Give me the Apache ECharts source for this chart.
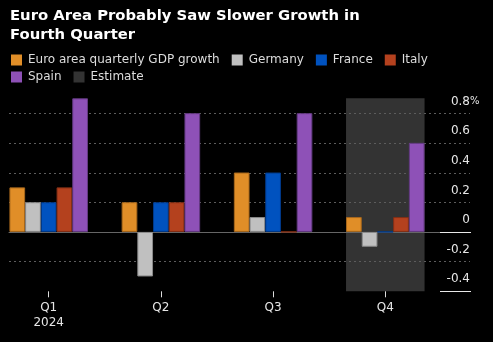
<!DOCTYPE html>
<html><head><meta charset="utf-8">
<script src="https://cdn.jsdelivr.net/npm/echarts@6/dist/echarts.min.js"></script>
<style>html,body{margin:0;padding:0;background:#000}#c{width:493px;height:342px}</style>
</head><body><div id="c"></div>
<script>
const categories = ['Q1\n2024', 'Q2', 'Q3', 'Q4'];
const euroArea = [0.3, 0.2, 0.4, 0.1];
const germany = [0.2, -0.3, 0.1, -0.1];
const france = [0.2, 0.2, 0.4, 0.0];
const italy = [0.3, 0.2, 0.0, 0.1];
const spain = [0.9, 0.8, 0.8, 0.6];
const estimateTop = [null, null, null, 0.9];
const estimateBottom = [null, null, null, -0.4];

const FONT = 'DejaVu Sans';
const chart = echarts.init(document.getElementById('c'), null, {renderer: 'canvas'});

function barSeries(name, data, color, border) {
  return {
    name, type: 'bar', data, xAxisIndex: 1, yAxisIndex: 1,
    barGap: '0%', barCategoryGap: '30%',
    itemStyle: {color, borderColor: border, borderWidth: 1},
    emphasis: {disabled: true}
  };
}
const fmtTick = v => Math.round(v * 10) / 10;

chart.setOption({
  backgroundColor: '#000',
  animation: false,
  title: {
    text: 'Euro Area Probably Saw Slower Growth in\nFourth Quarter',
    left: 10, top: 7, padding: 0,
    textStyle: {color: '#fff', fontFamily: FONT, fontWeight: 'bold', fontSize: 14.8, lineHeight: 19}
  },
  legend: [
    {
      data: ['Euro area quarterly GDP growth', 'Germany', 'France', 'Italy'],
      left: 11, top: 54, padding: 0, icon: 'rect', itemWidth: 11, itemHeight: 11, itemGap: 12,
      itemStyle: {borderWidth: 0},
      textStyle: {color: '#ddd', fontFamily: FONT, fontSize: 12, padding: [0, 0, 0, 1]}
    },
    {
      data: ['Spain', 'Estimate'],
      left: 11, top: 71, padding: 0, icon: 'rect', itemWidth: 11, itemHeight: 11, itemGap: 12,
      itemStyle: {borderWidth: 0},
      textStyle: {color: '#ddd', fontFamily: FONT, fontSize: 12, padding: [0, 0, 0, 1]}
    }
  ],
  grid: [
    {left: 9, right: 23, top: 113.7, bottom: 50.7, outerBoundsMode: 'none'},
    {left: -7.4, right: 51.6, top: 98.3, bottom: 50.7, outerBoundsMode: 'none'},
    {left: 440, right: 22, top: 232.3, bottom: 50.7, outerBoundsMode: 'none'}
  ],
  xAxis: [
    {gridIndex: 0, type: 'value', min: 0, max: 1, axisLabel: {show: false}, axisTick: {show: false},
     splitLine: {show: false}, axisLine: {show: true, onZero: true, lineStyle: {color: '#666', width: 1}}},
    {gridIndex: 1, type: 'category', data: categories,
     axisLine: {show: false, onZero: false},
     axisTick: {show: true, alignWithLabel: true, length: 6, lineStyle: {color: '#ddd', width: 1}},
     axisLabel: {color: '#e6e6e6', fontFamily: FONT, fontSize: 12, lineHeight: 15, margin: 9}},
    {gridIndex: 1, type: 'category', data: categories, show: false},
    {gridIndex: 2, type: 'value', min: 0, max: 1, show: false}
  ],
  yAxis: [
    {gridIndex: 0, type: 'value', position: 'right', min: -0.4, max: 0.8, interval: 0.2,
     axisLine: {show: false}, axisTick: {show: false},
     splitLine: {show: true, showMinLine: false, lineStyle: {color: '#5c5c5c', type: [2, 3], width: 1}},
     axisLabel: {inside: true, margin: 0, color: '#e6e6e6', fontFamily: FONT, fontSize: 12,
       verticalAlign: 'bottom', padding: [0, 0, 6, 0],
       formatter: v => String(fmtTick(v))}},
    {gridIndex: 1, type: 'value', min: -0.4, max: 0.9, show: false, splitLine: {show: false}},
    {gridIndex: 2, type: 'value', min: -0.4, max: 0, interval: 0.4, z: 5, axisLabel: {show: false},
     axisLine: {show: false}, axisTick: {show: false},
     splitLine: {show: true, lineStyle: {color: '#e8e8e8', width: 1, type: 'solid'}}},
    {gridIndex: 0, type: 'value', position: 'right', min: -0.4, max: 0.8, interval: 0.2,
     axisLine: {show: false}, axisTick: {show: false}, splitLine: {show: false},
     axisLabel: {inside: false, margin: 0, color: '#e6e6e6', fontFamily: FONT, fontSize: 10,
       verticalAlign: 'bottom', padding: [0, 0, 7, 0],
       formatter: v => fmtTick(v) === 0.8 ? '%' : ''}}
  ],
  series: [
    {name: 'Estimate', type: 'bar', data: estimateTop, xAxisIndex: 2, yAxisIndex: 1,
     barWidth: '70%', barGap: '-100%', z: -1, itemStyle: {color: '#333333'}, emphasis: {disabled: true}},
    {name: 'Estimate', type: 'bar', data: estimateBottom, xAxisIndex: 2, yAxisIndex: 1,
     barWidth: '70%', barGap: '-100%', z: -1, itemStyle: {color: '#333333'}, emphasis: {disabled: true}},
    barSeries('Euro area quarterly GDP growth', euroArea, '#E08E28', '#a8681c'),
    barSeries('Germany', germany, '#C0C0C0', '#8a8a8a'),
    barSeries('France', france, '#0052BF', '#003a8a'),
    barSeries('Italy', italy, '#B4411E', '#842f15'),
    barSeries('Spain', spain, '#8E51B7', '#633a82')
  ]
});
</script></body></html>
